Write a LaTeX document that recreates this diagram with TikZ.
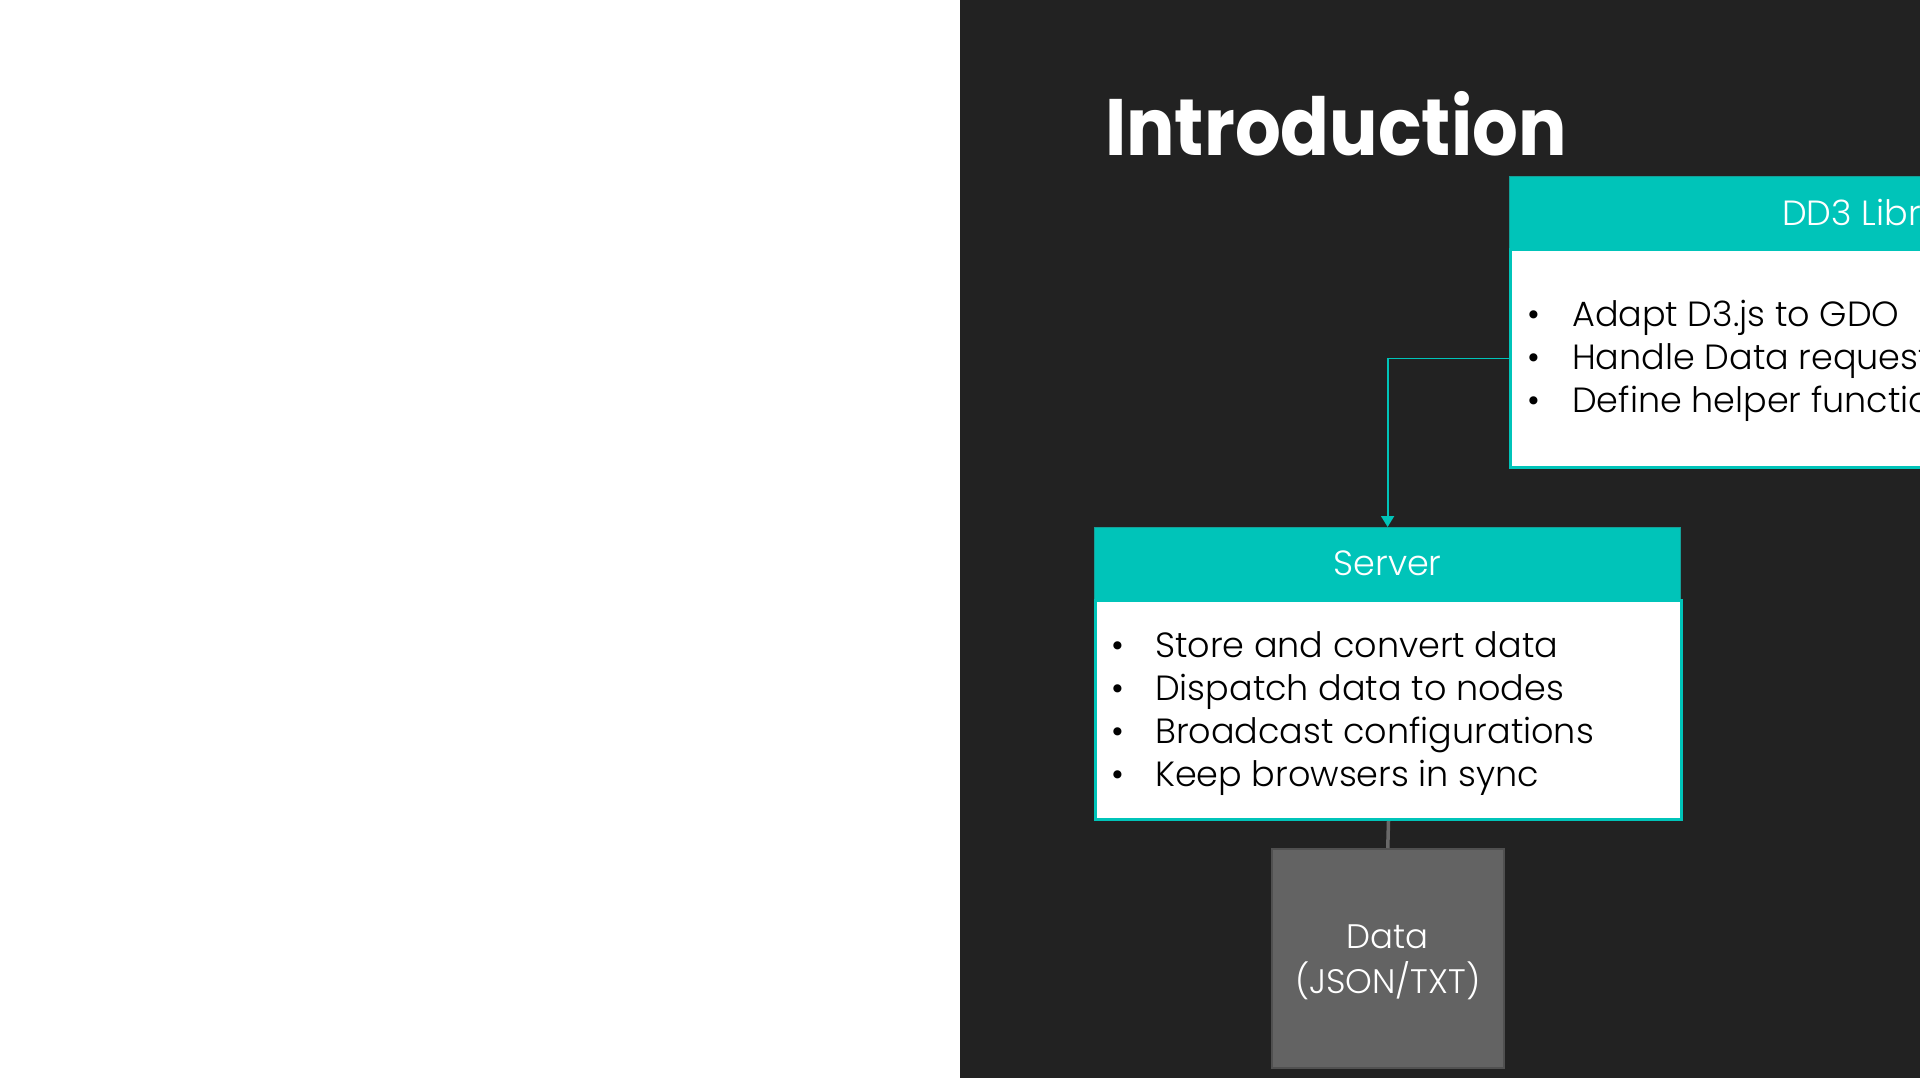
\documentclass[tikz,border=0pt]{standalone}
\usepackage{fontspec}
\setmainfont{Poppins Light}
\newfontfamily\headfont{Poppins}
\usetikzlibrary{arrows.meta}

\definecolor{slate}{RGB}{34,34,34}
\definecolor{aqua}{RGB}{0,196,185}
\definecolor{aquadark}{RGB}{20,160,152}
\definecolor{stone}{RGB}{99,99,99}
\definecolor{stoneedge}{RGB}{80,80,80}
\definecolor{wire}{RGB}{105,105,105}

\tikzset{
  headbox/.style={rectangle, fill=aqua, draw=aquadark, line width=1.2pt,
    inner sep=0pt, anchor=north west, text=white,
    font=\fontsize{35}{43}\selectfont},
  bodybox/.style={rectangle, fill=white, draw=aqua, line width=3pt,
    inner sep=0pt, anchor=north west},
  bodytext/.style={inner sep=0pt, anchor=base west, text=black,
    font=\fontsize{35}{43}\selectfont},
  storebox/.style={rectangle, fill=stone, draw=stoneedge, line width=1.5pt,
    inner sep=0pt, text=white, align=center,
    font=\fontsize{34}{45}\selectfont},
  flowline/.style={draw=aqua, line width=1.8pt,
    -{Triangle[length=11pt,width=13pt]}},
  linkline/.style={draw=wire, line width=3.5pt},
}

\begin{document}
\begin{tikzpicture}[x=1pt,y=-1pt]
  \useasboundingbox (0,0) rectangle (1920,1080);
  \clip (0,0) rectangle (1920,1080);
  \fill[white] (0,0) rectangle (1920,1080);
  \fill[slate] (960,0) rectangle (1920,1078);

  % heading
  \node[anchor=base west, inner sep=0pt, text=white,
        font=\headfont\fontsize{80}{90}\selectfont\bfseries] (title) at (1105,155)
        {\scalebox{0.9}[1]{Introduction}};

  % DD3 library panel (runs past the right edge)
  \node[headbox, minimum width=742pt, minimum height=72pt] (dd3head) at (1509,176) {};
  \node[inner sep=0pt, anchor=base west, text=white,
        font=\fontsize{35}{43}\selectfont] (dd3name) at (1782,225) {DD3 Library};
  \node[bodybox, minimum width=742pt, minimum height=218pt] (dd3body) at (1509,248) {};
  \foreach \t [count=\i] in {Adapt D3.js to GDO, Handle Data requests, Define helper functions}
    \node[bodytext] (dd3line\i) at (1527,{326+43*(\i-1)}) {\makebox[45pt][l]{•}\t};

  % server panel
  \node[headbox, minimum width=586pt, minimum height=72pt] (srvhead) at (1094,527) {};
  \node[inner sep=0pt, text=white, font=\fontsize{35}{43}\selectfont]
        (srvname) at (srvhead.center) {Server};
  \node[bodybox, minimum width=586pt, minimum height=219pt] (srvbody) at (1094,599) {};
  \foreach \t [count=\i] in {Store and convert data, Dispatch data to nodes,
                             Broadcast configurations, Keep browsers in sync}
    \node[bodytext] (srvline\i) at (1111,{657+43*(\i-1)}) {\makebox[44pt][l]{•}\t};

  % data store
  \node[storebox, minimum width=232pt, minimum height=219pt, anchor=north west]
        (data) at (1271,848) {};
  \node[inner sep=0pt, text=white, align=center, yshift=-4pt,
        font=\fontsize{34}{45}\selectfont] (datalabel) at (data.center) {Data\\(JSON/TXT)};

  % connectors
  \draw[flowline] (dd3body.west) -| (srvhead.north);
  \draw[linkline] (srvbody.south) -- (data.north);
\end{tikzpicture}
\end{document}
